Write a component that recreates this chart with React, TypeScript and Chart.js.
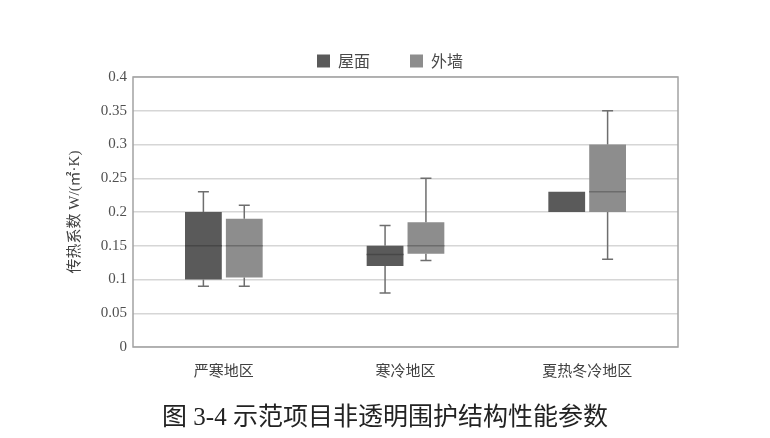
import { useEffect, useRef } from "react";
import { Chart, registerables, Plugin } from "chart.js";

Chart.register(...registerables);

const categories = ["严寒地区", "寒冷地区", "夏热冬冷地区"];
const seriesNames = ["屋面", "外墙"];

// box statistics per region
const roofMin = [0.09, 0.08, 0.2];
const roofQ1 = [0.1, 0.12, 0.2];
const roofMedian = [0.15, 0.137, null];
const roofQ3 = [0.2, 0.15, 0.23];
const roofMax = [0.23, 0.18, 0.23];

const wallMin = [0.09, 0.128, 0.13];
const wallQ1 = [0.103, 0.138, 0.2];
const wallMedian = [0.15, 0.15, 0.23];
const wallQ3 = [0.19, 0.185, 0.3];
const wallMax = [0.21, 0.25, 0.35];

const yTicks = [0, 0.05, 0.1, 0.15, 0.2, 0.25, 0.3, 0.35, 0.4];
const yTickLabels = ["0", "0.05", "0.1", "0.15", "0.2", "0.25", "0.3", "0.35", "0.4"];

const caption = "图 3-4 示范项目非透明围护结构性能参数";

const whiskers = [
  { min: roofMin, median: roofMedian, max: roofMax, medianColor: "#474747" },
  { min: wallMin, median: wallMedian, max: wallMax, medianColor: "#6c6c6c" },
];

const boxPlotPlugin: Plugin<"bar"> = {
  id: "boxPlot",
  afterDatasetsDraw(chart) {
    const { ctx, chartArea, scales } = chart;
    const y = scales.y;
    ctx.save();
    whiskers.forEach((w, di) => {
      const meta = chart.getDatasetMeta(di);
      meta.data.forEach((bar: any, i) => {
        const x = bar.x;
        const half = bar.width / 2;
        const [q1, q3] = chart.data.datasets[di].data[i] as number[];
        ctx.strokeStyle = "#6e6e6e";
        ctx.lineWidth = 1.5;
        const capHalf = 5.5;
        const segs: [number, number][] = [
          [q3, w.max[i] as number],
          [q1, w.min[i] as number],
        ];
        segs.forEach(([from, to]) => {
          if (to === from) return;
          const yf = y.getPixelForValue(from);
          const yt = y.getPixelForValue(to);
          ctx.beginPath();
          ctx.moveTo(x, yf);
          ctx.lineTo(x, yt);
          ctx.moveTo(x - capHalf, yt);
          ctx.lineTo(x + capHalf, yt);
          ctx.stroke();
        });
        const m = w.median[i];
        if (m !== null && m !== undefined) {
          const ym = y.getPixelForValue(m);
          ctx.strokeStyle = w.medianColor;
          ctx.beginPath();
          ctx.moveTo(x - half, ym);
          ctx.lineTo(x + half, ym);
          ctx.stroke();
        }
      });
    });
    // frame around the plot area
    ctx.strokeStyle = "#a3a3a3";
    ctx.lineWidth = 1.5;
    ctx.strokeRect(chartArea.left, chartArea.top, chartArea.right - chartArea.left, chartArea.bottom - chartArea.top);
    ctx.restore();
  },
};

// fixed legend height, and nudge the legend to the right like the original
const legendTweak: Plugin<"bar"> = {
  id: "legendTweak",
  beforeInit(chart: any) {
    const fit = chart.legend.fit;
    chart.legend.fit = function () {
      fit.bind(chart.legend)();
      this.height = 64;
    };
  },
  afterLayout(chart: any) {
    chart.legend.left += 21;
    chart.legend.right += 21;
  },
};

export default function App() {
  const canvasRef = useRef<HTMLCanvasElement | null>(null);
  const chartRef = useRef<Chart | null>(null);

  useEffect(() => {
    if (!canvasRef.current) return;
    if (chartRef.current) chartRef.current.destroy();

    chartRef.current = new Chart(canvasRef.current, {
      type: "bar",
      data: {
        labels: categories,
        datasets: [
          {
            label: seriesNames[0],
            data: roofQ1.map((q, i) => [q, roofQ3[i]]) as any,
            backgroundColor: "#5a5a5a",
            borderWidth: 0,
            borderSkipped: false,
            categoryPercentage: 0.45,
            barPercentage: 0.9,
          },
          {
            label: seriesNames[1],
            data: wallQ1.map((q, i) => [q, wallQ3[i]]) as any,
            backgroundColor: "#8d8d8d",
            borderWidth: 0,
            borderSkipped: false,
            categoryPercentage: 0.45,
            barPercentage: 0.9,
          },
        ],
      },
      options: {
        responsive: true,
        maintainAspectRatio: false,
        animation: false,
        layout: { padding: { top: 13, left: 60, right: 92, bottom: 56 } },
        plugins: {
          tooltip: { enabled: false },
          legend: {
            position: "top",
            labels: {
              boxWidth: 13,
              boxHeight: 13,
              padding: 40,
              color: "#4a4a4a",
              font: { family: "'Noto Sans CJK SC', sans-serif", size: 16 },
            },
          },
        },
        scales: {
          x: {
            grid: { display: false },
            border: { display: false },
            ticks: {
              color: "#404040",
              padding: 6,
              font: { family: "'Noto Sans CJK SC', sans-serif", size: 15 },
            },
            afterFit(scale) {
              scale.height = 35;
            },
          },
          y: {
            min: 0,
            max: 0.4,
            afterBuildTicks(scale) {
              scale.ticks = yTicks.map((v) => ({ value: v }));
            },
            grid: { color: "#d6d6d6", lineWidth: 1.5, drawTicks: false },
            border: { display: false },
            ticks: {
              color: "#505050",
              padding: 6,
              font: { family: "'Liberation Serif', serif", size: 15 },
              callback: (_v, i) => yTickLabels[i],
            },
            title: {
              display: true,
              text: "传热系数 W/(㎡·K)",
              color: "#404040",
              padding: { top: 6, bottom: 4 },
              font: { family: "'Liberation Serif', 'Noto Sans CJK SC', serif", size: 15 },
            },
            afterFit(scale) {
              scale.width = 73;
            },
          },
        },
      },
      plugins: [boxPlotPlugin, legendTweak],
    });

    return () => {
      if (chartRef.current) {
        chartRef.current.destroy();
        chartRef.current = null;
      }
    };
  }, []);

  return (
    <div style={{ position: "fixed", left: 0, top: 0, width: 770, height: 438, background: "#fff" }}>
      <canvas ref={canvasRef} />
      <div
        style={{
          position: "absolute",
          left: 0,
          width: 770,
          top: 400,
          textAlign: "center",
          fontFamily: "'Liberation Serif', 'Noto Sans CJK SC', serif",
          fontSize: 25,
          lineHeight: "34px",
          color: "#222",
        }}
      >
        {caption}
      </div>
    </div>
  );
}
